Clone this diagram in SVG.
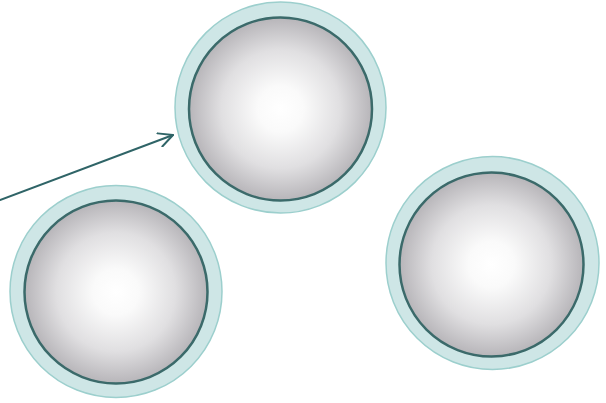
<svg xmlns="http://www.w3.org/2000/svg" width="606" height="403" viewBox="0 0 606 403">
<style>
.outer{fill:#cee6e6;stroke:#9ccfcd;stroke-width:1.5}
.inner{fill:url(#g);stroke:#3a6a6a;stroke-width:2.5}
.conn{fill:none;stroke:#2f6467;stroke-width:2;stroke-linecap:round;stroke-linejoin:round}
</style>
<defs>
<radialGradient id="g" cx="0.5" cy="0.5" r="0.5">
<stop offset="0" stop-color="#ffffff"/>
<stop offset="0.25" stop-color="#fafafa"/>
<stop offset="0.65" stop-color="#e0dfe1"/>
<stop offset="1" stop-color="#b7b5b9"/>
</radialGradient>
<marker id="arr" viewBox="0 0 16 16" refX="15" refY="8" markerWidth="16" markerHeight="16" markerUnits="userSpaceOnUse" orient="auto">
<path d="M1,1 L15,8 L1,15" fill="none" stroke="#2f6467" stroke-width="2" stroke-linecap="round" stroke-linejoin="round"/>
</marker>
<filter id="b" x="-10%" y="-10%" width="120%" height="120%"><feGaussianBlur stdDeviation="0.6"/></filter>
</defs>
<g id="connectors">
<path class="conn" d="M0,200 L173,135" marker-end="url(#arr)"/>
</g>
<g id="node-top">
<circle class="outer" cx="280.5" cy="107.5" r="105.5"/>
<circle class="inner" cx="280.5" cy="109" r="91.5" filter="url(#b)"/>
</g>
<g id="node-left">
<circle class="outer" cx="116" cy="291.5" r="106"/>
<circle class="inner" cx="116" cy="292" r="91.5" filter="url(#b)"/>
</g>
<g id="node-right">
<circle class="outer" cx="492.5" cy="263" r="106.5"/>
<circle class="inner" cx="491.5" cy="264.5" r="92" filter="url(#b)"/>
</g>
</svg>
